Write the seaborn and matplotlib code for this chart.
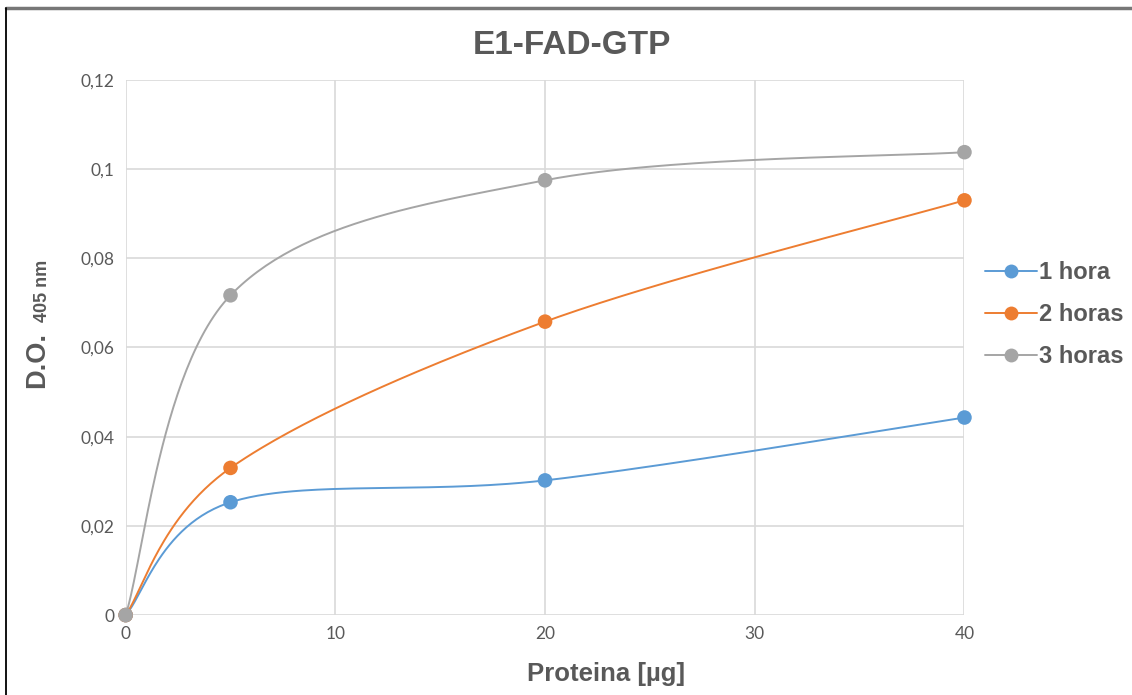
import numpy as np
import pandas as pd
import matplotlib
matplotlib.use("Agg")
import matplotlib.pyplot as plt
from matplotlib.lines import Line2D
from matplotlib.ticker import FuncFormatter
import seaborn as sns

proteina = [0, 5, 20, 40]
hora_1 = [0, 0.0253, 0.0302, 0.0443]
horas_2 = [0, 0.0330, 0.0658, 0.0930]
horas_3 = [0, 0.0717, 0.0975, 0.1038]
series_names = ["1 hora", "2 horas", "3 horas"]
colors = ["#5B9BD5", "#ED7D31", "#A5A5A5"]


def excel_smooth(x, y, sx, sy, n=60):
    # Catmull-Rom style bezier, computed in screen units like Excel does
    px = np.asarray(x, float) * sx
    py = np.asarray(y, float) * sy
    pts = np.column_stack([px, py])
    out = []
    for i in range(len(pts) - 1):
        p0 = pts[i - 1] if i > 0 else pts[i]
        p1, p2 = pts[i], pts[i + 1]
        p3 = pts[i + 2] if i + 2 < len(pts) else pts[i + 1]
        c1 = p1 + (p2 - p0) / 6
        c2 = p2 - (p3 - p1) / 6
        t = np.linspace(0, 1, n)[:, None]
        seg = ((1 - t) ** 3) * p1 + 3 * ((1 - t) ** 2) * t * c1 + 3 * (1 - t) * t ** 2 * c2 + t ** 3 * p2
        out.append(seg if i == 0 else seg[1:])
    out = np.vstack(out)
    return out[:, 0] / sx, out[:, 1] / sy


df = pd.DataFrame({
    "Proteina": proteina * 3,
    "DO": hora_1 + horas_2 + horas_3,
    "Serie": np.repeat(series_names, len(proteina)),
})

sns.set_theme(style="white")
plt.rcParams["font.family"] = ["Liberation Sans", "DejaVu Sans"]

fig = plt.figure(figsize=(11.32, 6.95), dpi=100)
ax = fig.add_axes([0.111, 0.115, 0.741, 0.77])

# pixel scale of the plot area
sx = 838 / 40
sy = 535 / 0.12

for name, col in zip(series_names, colors):
    sub = df[df["Serie"] == name]
    xs, ys = excel_smooth(sub["Proteina"], sub["DO"], sx, sy)
    ax.plot(xs, ys, color=col, lw=1.4, zorder=3)

sns.scatterplot(data=df, x="Proteina", y="DO", hue="Serie", palette=colors,
                s=110, edgecolor="none", legend=False, ax=ax, zorder=4)

ax.set_xlim(0, 40)
ax.set_ylim(0, 0.12)
ax.set_xticks([0, 10, 20, 30, 40])
ax.set_yticks(np.arange(0, 0.121, 0.02))
ax.yaxis.set_major_formatter(FuncFormatter(
    lambda v, p: "0" if abs(v) < 1e-9 else ("%g" % round(v, 2)).replace(".", ",")))
ax.grid(True, color="#D9D9D9", lw=1.2)
for s in ax.spines.values():
    s.set_visible(False)
ax.tick_params(axis="both", length=0, labelsize=12.5, labelcolor="#595959", pad=8)
for lab in ax.get_xticklabels() + ax.get_yticklabels():
    lab.set_family(["Lato", "DejaVu Sans"])
for coll in ax.collections:
    coll.set_clip_on(False)
for ln in ax.lines:
    ln.set_clip_on(False)

ax.set_xlabel("")
ax.set_ylabel("")
fig.text(0.535, 0.030, "Proteina [µg]", fontsize=18.5, fontweight="bold",
         color="#595959", ha="center", va="center")
fig.text(0.033, 0.482, "D.O.", rotation=90, fontsize=19.5, fontweight="bold",
         color="#595959", ha="center", va="center")
fig.text(0.0375, 0.581, "405 nm", rotation=90, fontsize=13, fontweight="bold",
         color="#595959", ha="center", va="center")
fig.text(0.505, 0.935, "E1-FAD-GTP", fontsize=24, fontweight="bold",
         color="#595959", ha="center", va="center")

handles = [Line2D([0], [0], color=c, lw=1.4, marker="o", markersize=10,
                  markeredgecolor="none") for c in colors]
fig.legend(handles, series_names, loc="center left", bbox_to_anchor=(0.851, 0.547),
           frameon=False, handlelength=2.2, handletextpad=0.1,
           labelspacing=0.8, labelcolor="#595959",
           prop={"weight": "bold", "size": 17})

# outer frame lines (top and left only)
fig.add_artist(Line2D([0.005, 1], [0.988, 0.988], transform=fig.transFigure,
                      color="#777777", lw=2.5))
fig.add_artist(Line2D([0.0055, 0.0055], [0, 0.988], transform=fig.transFigure,
                      color="black", lw=1.3))

fig.savefig("out.png", dpi=100)
